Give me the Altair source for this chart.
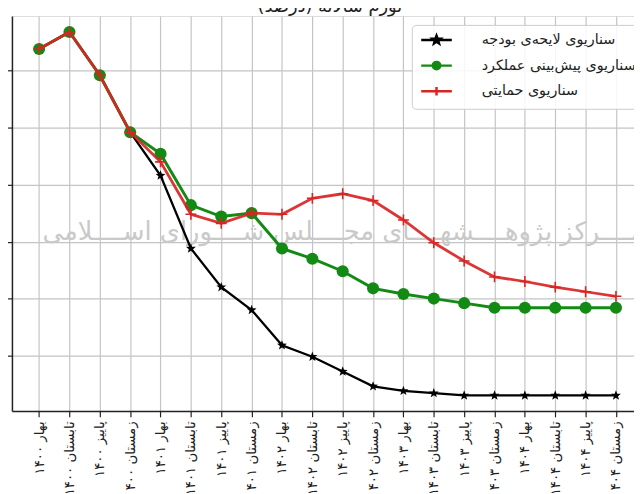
import math
import json
import pandas as pd
import altair as alt

# ---------------- data ----------------
quarter_labels = [
    "بهار ۱۴۰۰", "تابستان ۱۴۰۰", "پاییز ۱۴۰۰", "زمستان ۱۴۰۰",
    "بهار ۱۴۰۱", "تابستان ۱۴۰۱", "پاییز ۱۴۰۱", "زمستان ۱۴۰۱",
    "بهار ۱۴۰۲", "تابستان ۱۴۰۲", "پاییز ۱۴۰۲", "زمستان ۱۴۰۲",
    "بهار ۱۴۰۳", "تابستان ۱۴۰۳", "پاییز ۱۴۰۳", "زمستان ۱۴۰۳",
    "بهار ۱۴۰۴", "تابستان ۱۴۰۴", "پاییز ۱۴۰۴", "زمستان ۱۴۰۴",
]

series_names = ["سناریوی لایحه‌ی بودجه", "سناریوی پیش‌بینی عملکرد", "سناریوی حمایتی"]

budget_bill = [46.9, 48.4, 44.6, 39.6, 35.8, 29.4, 26.0, 24.0, 20.9, 19.9,
               18.6, 17.3, 16.9, 16.7, 16.5, 16.5, 16.5, 16.5, 16.5, 16.5]
performance = [46.9, 48.4, 44.6, 39.6, 37.7, 33.2, 32.2, 32.5, 29.4, 28.5,
               27.4, 25.9, 25.4, 25.0, 24.6, 24.2, 24.2, 24.2, 24.2, 24.2]
supportive = [46.9, 48.4, 44.6, 39.6, 37.0, 32.4, 31.6, 32.5, 32.4, 33.8,
              34.2, 33.6, 31.9, 29.9, 28.3, 26.9, 26.5, 26.0, 25.6, 25.2]

y_ticks = [20, 25, 30, 35, 40, 45]

title_text = "تورم سالانه (درصد)"
watermark_text = "مــــرکز پژوهــــشهــــای مجــــلس شــــورای اســــلامی"

# ---------------- styling ----------------
COL_BLACK = "#000000"
COL_GREEN = "#138a13"
COL_RED = "#d92424"
FONT = "DejaVu Sans"


def star_path(R, r, cx=0.0):
    pts = []
    for k in range(10):
        ang = -math.pi / 2 + k * math.pi / 5
        rad = R if k % 2 == 0 else r
        pts.append((cx + rad * math.cos(ang), rad * math.sin(ang)))
    return "M" + "L".join(f"{x:.3f},{y:.3f}" for x, y in pts) + "Z"


def circle_path(R):
    return f"M{R},0A{R},{R} 0 1,1 {-R},0A{R},{R} 0 1,1 {R},0Z"


STAR = star_path(1.0, 0.42)
PLUS = "M-1,0H1M0,-1V1"

LINE = "M-3.1,0H3.1"
legend_shapes = [
    LINE + star_path(0.85, 0.36),
    LINE + circle_path(0.75),
    LINE + "M-0.85,0H0.85M0,-0.85V0.85",
]

rows = []
for name, vals in zip(series_names, [budget_bill, performance, supportive]):
    for i, v in enumerate(vals):
        rows.append({"idx": i, "value": v, "series": name})
df = pd.DataFrame(rows)

x_scale = alt.Scale(domain=[-0.894, 19.594], nice=False, zero=False)
y_scale = alt.Scale(domain=[15.14, 49.8], nice=False, zero=False)

label_expr = json.dumps(quarter_labels, ensure_ascii=False) + "[datum.value]"

x_enc = alt.X(
    "idx:Q", scale=x_scale, title=None,
    axis=alt.Axis(values=list(range(len(quarter_labels))), labelExpr=label_expr,
                  labelAngle=-90, labelAlign="right", labelBaseline="middle",
                  labelPadding=4, labelFontSize=13.5, labelFont=FONT,
                  labelColor="#222", labelOverlap=False, labelFlush=False,
                  grid=True, gridColor="#c4c4c4", gridWidth=1.2,
                  tickSize=6, tickColor="#222", tickWidth=1.2,
                  domainColor="#222", domainWidth=1.5),
)
y_enc = alt.Y(
    "value:Q", scale=y_scale, title=None,
    axis=alt.Axis(values=y_ticks, labels=False, grid=True, gridColor="#c4c4c4",
                  gridWidth=1.2, tickSize=6, tickColor="#222", tickWidth=1.2,
                  domainColor="#222", domainWidth=1.5),
)

base = alt.Chart(df)

watermark = alt.Chart(pd.DataFrame({"t": [watermark_text]})).mark_text(
    align="left", baseline="alphabetic", fontSize=26, font=FONT,
    color="#c9c9c9",
).encode(x=alt.value(31), y=alt.value(227), text="t:N")

title_mark = alt.Chart(pd.DataFrame({"t": [title_text]})).mark_text(
    align="center", baseline="alphabetic", fontSize=18, font=FONT,
    color="#222",
).encode(x=alt.value(322), y=alt.value(-4), text="t:N")


def series_layers(name, color, width, shape, size, filled, stroke_w=None, opacity=1.0):
    d = base.transform_filter(alt.datum.series == name)
    line = d.mark_line(color=color, strokeWidth=width, opacity=opacity).encode(x=x_enc, y=y_enc)
    kw = dict(shape=shape, size=size, filled=filled, color=color, opacity=1)
    if stroke_w is not None:
        kw["strokeWidth"] = stroke_w
    pts = d.mark_point(**kw).encode(x=x_enc, y=y_enc)
    return [line, pts]


layers = [watermark, title_mark]
layers += series_layers(series_names[0], COL_BLACK, 2.3, STAR, 110, True)
layers += series_layers(series_names[1], COL_GREEN, 3, "circle", 150, True)
layers += series_layers(series_names[2], COL_RED, 2.8, PLUS, 120, False, stroke_w=1.6, opacity=0.92)

legend_def = alt.Legend(
    title=None, orient="none", legendX=405, legendY=9,
    padding=8, fillColor="rgba(255,255,255,0.85)", strokeColor="#cccccc",
    cornerRadius=4, labelFont=FONT, labelFontSize=14.5, labelColor="#222",
    symbolStrokeWidth=2.5, symbolOffset=9.75, labelOffset=38.5,
    symbolOpacity=1, rowPadding=8, labelLimit=400,
)
leg_domain = series_names
legend_layer = base.transform_filter("false").mark_point(filled=True, opacity=1).encode(
    x=x_enc, y=y_enc,
    fill=alt.Fill("series:N", scale=alt.Scale(domain=leg_domain, range=[COL_BLACK, COL_GREEN, COL_RED]), legend=legend_def),
    stroke=alt.Stroke("series:N", scale=alt.Scale(domain=leg_domain, range=[COL_BLACK, COL_GREEN, COL_RED]), legend=legend_def),
    shape=alt.Shape("series:N", scale=alt.Scale(domain=leg_domain, range=legend_shapes), legend=legend_def),
    size=alt.value(196),
)
layers.append(legend_layer)

chart = alt.layer(*layers).properties(
    width=630, height=400,
    autosize=alt.AutoSizeParams(type="none"),
    padding={"left": 4, "top": 5, "right": 0, "bottom": 80},
).configure_view(stroke="#222", strokeWidth=1.5).configure(background="white")

chart.save("out.html", embed_options={"renderer": "svg", "actions": False})
